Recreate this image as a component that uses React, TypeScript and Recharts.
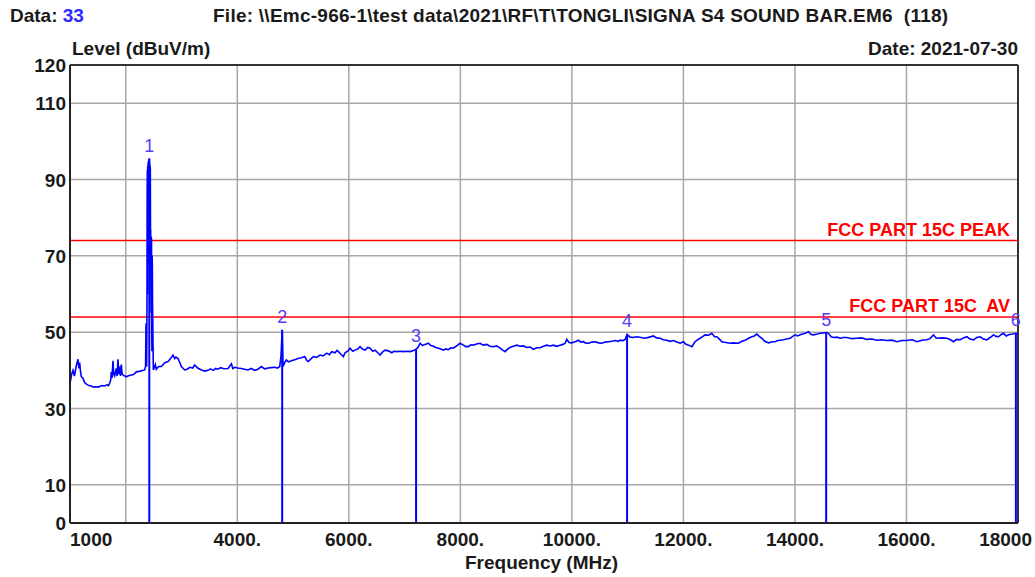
import React from 'react';
import { LineChart, Line, XAxis, YAxis, CartesianGrid, ReferenceLine } from 'recharts';

const FONT = '"Liberation Sans", Arial, Helvetica, sans-serif';

const freqs = [
  1000, 1012, 1030, 1054, 1080, 1110, 1143, 1160, 1173, 1190, 1203, 1230, 1263, 1300, 1340, 1382, 1420, 1460, 1502, 1540,
  1580, 1622, 1660, 1690, 1711, 1730, 1741, 1755, 1771, 1785, 1801, 1830, 1845, 1861, 1875, 1891, 1905, 1920, 1935, 1950,
  1980, 2010, 2050, 2100, 2140, 2190, 2260, 2339, 2355,
  2363, 2375, 2381, 2384, 2387, 2390, 2393, 2396, 2400, 2404, 2408, 2411, 2413, 2416, 2419, 2422, 2425, 2428, 2432, 2436,
  2440, 2444, 2447, 2451, 2455, 2458, 2462, 2466, 2470, 2473, 2476, 2480, 2485, 2494,
  2507, 2530, 2548, 2590, 2638, 2700, 2758, 2800, 2847, 2877, 2900, 2937, 2970, 2997, 3057,
  3100, 3150, 3200, 3236, 3290, 3356, 3420, 3475, 3520, 3570, 3610, 3654, 3700, 3760, 3834, 3894, 3920, 3954, 4010, 4073,
  4130, 4193, 4250, 4313, 4370, 4432, 4490, 4551, 4610, 4671, 4720, 4761, 4785, 4805, 4820, 4850, 4880, 4920, 4970, 5030,
  5089, 5150, 5209, 5250, 5274, 5320, 5364, 5420, 5484, 5540, 5604, 5650, 5694, 5753, 5790, 5813, 5860, 5903, 5932, 5980,
  6022, 6070, 6112, 6160, 6201, 6250, 6291, 6340, 6381, 6430, 6470, 6520, 6560, 6610, 6650, 6709, 6769, 6810, 6859, 6920,
  6978, 7040, 7098, 7150, 7206, 7240, 7278, 7320, 7367, 7427, 7470, 7516, 7560, 7606, 7650, 7696, 7740, 7786, 7830, 7875,
  7940, 7995, 8055, 8100, 8144, 8190, 8234, 8290, 8354, 8410, 8473, 8530, 8593, 8650, 8713, 8760, 8802, 8850, 8892, 8950,
  9012, 9070, 9131, 9190, 9251, 9310, 9370, 9430, 9490, 9550, 9610, 9669, 9730, 9789, 9840, 9879, 9908, 9950, 9998, 10060,
  10118, 10160, 10207, 10250, 10297, 10360, 10417, 10480, 10536, 10600, 10656, 10720, 10775, 10830, 10865, 10920, 10955, 10990, 11044, 11100,
  11164, 11240, 11313, 11390, 11463, 11520, 11582, 11640, 11702, 11760, 11822, 11880, 11941, 12001, 12040, 12091, 12151, 12210, 12250, 12300,
  12350, 12390, 12450, 12509, 12560, 12599, 12650, 12689, 12760, 12838, 12900, 12988, 13050, 13107, 13170, 13227, 13270, 13317, 13360, 13406,
  13460, 13526, 13590, 13645, 13690, 13735, 13795, 13850, 13914, 13960, 14004, 14050, 14093, 14140, 14183, 14243, 14290, 14332, 14400, 14452,
  14510, 14560, 14601, 14650, 14691, 14750, 14811, 14870, 14930, 15020, 15110, 15200, 15289, 15380, 15469, 15560, 15648, 15740, 15827, 15920,
  16007, 16100, 16186, 16280, 16365, 16420, 16485, 16530, 16574, 16650, 16724, 16790, 16843, 16900, 16963, 17020, 17083, 17140, 17202, 17260,
  17322, 17380, 17441, 17500, 17561, 17610, 17650, 17700, 17740, 17790, 17830, 17900, 17962, 18000,
];

const levels = [
  38.0, 37.5, 39.0, 40.0, 38.5, 41.0, 42.9, 40.5, 42.0, 39.5, 38.3, 38.0, 36.8, 36.3, 36.0, 35.9, 35.6, 35.7, 35.6, 35.8,
  36.0, 35.9, 36.2, 36.0, 36.6, 37.5, 39.6, 38.0, 42.5, 39.0, 38.5, 40.5, 38.5, 42.9, 39.0, 41.0, 38.5, 41.5, 39.0, 38.8,
  38.5, 38.3, 38.6, 38.8, 38.9, 39.6, 39.8, 40.1, 41.0,
  52.3, 41.0, 60.0, 88.0, 92.5, 62.0, 93.5, 60.0, 94.0, 94.7, 70.0, 95.0, 68.0, 94.8, 72.0, 95.5, 76.0, 94.5, 82.0, 93.5,
  93.0, 74.0, 76.8, 60.0, 55.0, 75.0, 74.0, 50.0, 45.0, 70.0, 68.0, 58.0, 52.0, 40.1,
  40.5, 41.5, 40.3, 41.0, 41.0, 42.0, 42.3, 43.0, 44.0, 43.1, 43.5, 43.1, 42.0, 41.0, 40.1,
  40.3, 40.8, 40.6, 41.4, 40.6, 40.1, 39.8, 40.0, 40.4, 40.0, 40.5, 40.3, 40.7, 40.4, 40.5, 41.7, 40.5, 40.8, 40.6, 40.5,
  40.3, 40.1, 40.5, 40.0, 40.3, 41.0, 40.4, 40.6, 40.7, 40.8, 40.6, 41.0, 44.0, 50.6, 41.0, 42.0, 42.7, 42.2, 42.5, 42.8,
  43.1, 43.3, 43.6, 42.5, 42.3, 43.0, 43.6, 43.4, 44.0, 43.8, 44.5, 44.1, 44.9, 44.6, 45.2, 44.9, 44.2, 43.6, 44.6, 45.0,
  45.8, 45.0, 45.3, 45.6, 46.2, 45.5, 45.3, 46.0, 45.8, 45.0, 45.3, 44.6, 44.0, 44.9, 45.3, 45.1, 44.6, 45.0, 44.9, 45.0,
  44.9, 45.0, 44.9, 45.1, 45.5, 46.0, 47.1, 46.5, 46.8, 47.1, 46.5, 46.3, 46.0, 45.8, 45.6, 45.3, 45.6, 45.4, 45.9, 45.8,
  46.5, 47.1, 46.6, 46.2, 46.2, 46.7, 46.6, 46.9, 47.1, 46.6, 46.8, 46.3, 46.2, 46.4, 45.8, 45.3, 44.9, 45.6, 46.0, 46.3,
  46.6, 46.3, 46.4, 46.0, 46.1, 45.5, 45.9, 45.9, 46.3, 46.6, 46.4, 46.6, 46.3, 46.6, 46.8, 47.1, 48.1, 47.3, 47.2, 47.5,
  47.9, 47.4, 47.5, 47.1, 47.1, 47.4, 47.5, 47.2, 47.1, 47.4, 47.5, 47.6, 47.8, 47.6, 47.9, 47.8, 48.1, 49.4, 48.7, 48.6,
  48.8, 48.6, 48.4, 48.7, 49.0, 48.5, 48.4, 48.0, 47.9, 47.6, 47.8, 47.4, 47.1, 47.5, 46.9, 46.6, 46.2, 47.5, 48.0, 48.4,
  48.9, 49.3, 49.2, 49.7, 48.8, 48.8, 48.1, 47.5, 47.3, 47.1, 47.2, 47.1, 47.6, 47.9, 48.4, 48.8, 49.0, 49.5, 48.9, 48.4,
  47.6, 47.2, 47.5, 47.5, 47.8, 47.9, 48.0, 48.2, 48.4, 48.9, 49.3, 49.0, 49.3, 49.5, 49.7, 50.1, 49.4, 49.3, 49.5, 49.7,
  49.8, 49.9, 49.7, 48.8, 48.6, 48.7, 48.4, 48.6, 48.6, 48.3, 48.4, 48.5, 48.1, 48.2, 47.9, 48.0, 47.8, 47.9, 47.5, 47.8,
  47.8, 48.0, 47.5, 47.9, 48.0, 48.3, 49.3, 48.5, 48.4, 48.5, 48.4, 48.0, 47.5, 48.1, 48.0, 48.5, 48.8, 48.2, 48.0, 48.6,
  48.8, 48.2, 48.0, 48.6, 49.3, 48.9, 48.8, 49.4, 49.7, 49.0, 49.3, 49.5, 49.7, 49.5,
];

const markerLabels = ['1', '2', '3', '4', '5', '6'];
const markerFreqs = [2422, 4805, 7206, 10990, 14560, 17962];
const markerLevels = [95.5, 50.6, 45.5, 49.4, 49.9, 49.7];

const limitValues = [74, 54];
const limitLabels = ['FCC PART 15C PEAK', 'FCC PART 15C  AV'];

const xTicks = [1000, 2000, 4000, 6000, 8000, 10000, 12000, 14000, 16000, 18000];
const yTicks = [0, 10, 30, 50, 70, 90, 110, 120];

const data = freqs.map((f, i) => ({ f, v: levels[i] }));

const XTick = (props: any) => {
  const { x, payload } = props;
  const v = payload.value;
  if (v === 2000) return null;
  let anchor: any = 'middle';
  let tx = x;
  let label = `${v}.`;
  if (v === 1000) { anchor = 'start'; tx = x; label = '1000'; }
  if (v === 18000) { anchor = 'end'; tx = x + 14; label = '18000'; }
  return (
    <text x={tx} y={546} textAnchor={anchor} fill="#1a1a1a" fontSize={19} fontWeight="bold" fontFamily={FONT}>
      {label}
    </text>
  );
};

const YTick = (props: any) => {
  const { y, payload } = props;
  return (
    <text x={66} y={y + 7} textAnchor="end" fill="#1a1a1a" fontSize={19} fontWeight="bold" fontFamily={FONT}>
      {payload.value}
    </text>
  );
};

const LimitLabel = (props: any) => {
  const { viewBox, text } = props;
  if (!viewBox) return null;
  return (
    <text x={viewBox.x + viewBox.width - 8} y={viewBox.y - 5} textAnchor="end" fill="#ff0000" fontSize={18}
      fontWeight="bold" fontFamily={FONT} xmlSpace="preserve" style={{ whiteSpace: 'pre' }}>
      {text}
    </text>
  );
};

const MarkerLabel = (props: any) => {
  const { viewBox, text } = props;
  if (!viewBox) return null;
  return (
    <text x={viewBox.x} y={viewBox.y - 7} textAnchor="middle" fill="#5a3cf0" fontSize={18} fontFamily={FONT}>
      {text}
    </text>
  );
};

export default function App() {
  return (
    <div style={{ position: 'absolute', left: 0, top: 0, width: 1035, height: 577, background: '#fff' }}>
      <LineChart width={1035} height={577} data={data} margin={{ top: 65, right: 17, left: 0, bottom: 0 }}>
        <CartesianGrid stroke="#a8a8a8" strokeWidth={1.5} horizontalValues={yTicks} verticalValues={xTicks} />
        <XAxis dataKey="f" type="number" domain={[1000, 18000]} ticks={xTicks} interval={0} height={54}
          axisLine={{ stroke: '#222', strokeWidth: 2 }} tickLine={false} tick={<XTick />} allowDataOverflow />
        <YAxis type="number" domain={[0, 120]} ticks={yTicks} interval={0} width={70}
          axisLine={{ stroke: '#222', strokeWidth: 2 }} tickLine={false} tick={<YTick />} allowDataOverflow />
        <ReferenceLine y={120} stroke="#333" strokeWidth={2} />
        <ReferenceLine x={18000} stroke="#333" strokeWidth={2} />
        {limitValues.map((lv, i) => (
          <ReferenceLine key={'l' + i} y={lv} stroke="#ff0000" strokeWidth={1.5}
            label={<LimitLabel text={limitLabels[i]} />} />
        ))}
        {markerFreqs.map((mf, i) => (
          <ReferenceLine key={'m' + i} segment={[{ x: mf, y: 0 }, { x: mf, y: markerLevels[i] }]}
            stroke="#0000ff" strokeWidth={2} label={<MarkerLabel text={markerLabels[i]} />} />
        ))}
        <Line type="linear" dataKey="v" stroke="#0000ff" strokeWidth={1.6} dot={false} isAnimationActive={false} />
      </LineChart>
      <svg width={1035} height={577} style={{ position: 'absolute', left: 0, top: 0, pointerEvents: 'none' }}>
        <g fontFamily={FONT} fontWeight="bold" fontSize={19} fill="#1a1a1a">
          <text x={10} y={22}>Data: <tspan fill="#2b2bff">33</tspan></text>
          <text x={213} y={22} xmlSpace="preserve" letterSpacing={0.25} style={{ whiteSpace: 'pre' }}>
            {'File: \\\\Emc-966-1\\test data\\2021\\RF\\T\\TONGLI\\SIGNA S4 SOUND BAR.EM6  (118)'}
          </text>
          <text x={72} y={55}>Level (dBuV/m)</text>
          <text x={1018} y={55} textAnchor="end">Date: 2021-07-30</text>
          <text x={465} y={569}>Frequency (MHz)</text>
        </g>
      </svg>
    </div>
  );
}
